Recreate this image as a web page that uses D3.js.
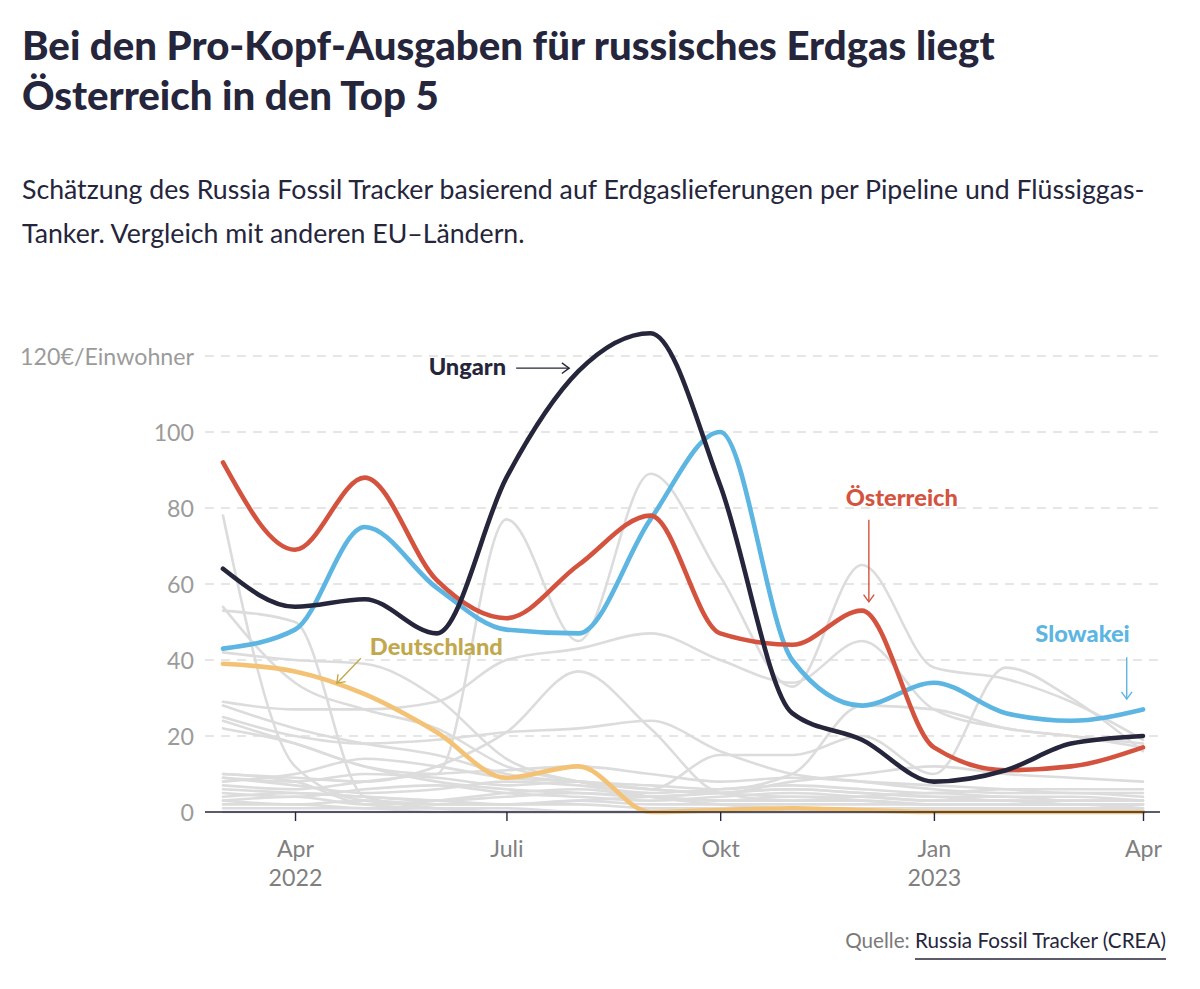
<!DOCTYPE html>
<html>
<head>
<meta charset="utf-8">
<script src="https://cdn.jsdelivr.net/npm/d3@7"></script>
<style>
  body { margin: 0; background: #fff; }
  svg { display: block; }
  text { font-family: Lato, "Open Sans", "DejaVu Sans", sans-serif; }
</style>
</head>
<body>
<svg id="chart" width="1200" height="989"></svg>
<script>
// ---------------- DATA ----------------
const months = ["2022-03-01","2022-04-01","2022-05-01","2022-06-01","2022-07-01","2022-08-01","2022-09-01",
                "2022-10-01","2022-11-01","2022-12-01","2023-01-01","2023-02-01","2023-03-01","2023-04-01"];

const oesterreich = [92, 69, 88, 61, 51, 65, 78, 47, 44, 53, 17, 11, 12, 17];
const slowakei    = [43, 48, 75, 59, 48, 47, 77, 100, 40, 28, 34, 26, 24, 27];
const ungarn      = [64, 54, 56, 47, 88, 116, 126, 86, 26, 19, 8, 11, 18, 20];
const deutschland = [39, 37, 31, 21, 9, 12, 0, 0.5, 1, 0.5, 0, 0, 0, 0];

// other EU countries (grey background lines)
const bulgarien    = [78, 12, 3, 2, 2, 3, 4, 5, 6, 5, 4, 3, 3, 3];
const finnland     = [53, 50, 4, 1, 0, 0, 0, 0, 0, 0, 0, 0, 0, 0];
const lettland     = [54, 34, 27, 22, 12, 8, 4, 2, 1, 1, 1, 1, 1, 1];
const griechenland = [22, 18, 12, 10, 77, 45, 89, 62, 33, 65, 38, 35, 29, 19];
const tschechien   = [42, 40, 39, 30, 14, 8, 6, 5, 4, 4, 3, 3, 2, 2];
const litauen      = [29, 27, 27, 29, 40, 43, 47, 40, 34, 45, 27, 22, 20, 18];
const slowenien    = [10, 9, 8, 12, 21, 37, 22, 5, 3, 3, 2, 2, 2, 2];
const italien      = [25, 20, 18, 19, 21, 22, 24, 16, 10, 8, 6, 5, 5, 4];
const belgien      = [9, 8, 10, 9, 7, 8, 6, 15, 15, 20, 10, 38, 30, 16];
const niederlande  = [28, 22, 18, 15, 10, 8, 7, 6, 10, 28, 27, 22, 20, 17];
const kroatien     = [8, 10, 14, 12, 9, 8, 6, 5, 8, 10, 12, 10, 9, 8];
const frankreich   = [7, 6, 8, 10, 11, 12, 10, 8, 9, 8, 7, 6, 5, 5];
const estland      = [6, 5, 4, 3, 2, 2, 1, 1, 1, 1, 1, 1, 1, 1];
const polen        = [10, 8, 2, 1, 1, 0, 0, 0, 0, 0, 0, 0, 0, 0];
const rumaenien    = [5, 4, 6, 7, 5, 4, 3, 4, 5, 4, 3, 3, 2, 2];
const spanien      = [4, 5, 4, 3, 4, 5, 4, 3, 3, 4, 5, 4, 4, 3];
const portugal     = [3, 2, 3, 2, 2, 3, 2, 2, 2, 2, 2, 2, 2, 1];
const daenemark    = [2, 2, 1, 1, 0, 0, 0, 0, 0, 0, 0, 0, 0, 0];
const schweden     = [1, 1, 1, 0, 0, 0, 0, 0, 0, 0, 0, 0, 0, 0];
const luxemburg    = [24, 18, 12, 8, 6, 5, 4, 5, 6, 5, 4, 4, 3, 3];
const irland       = [9, 7, 5, 6, 8, 7, 5, 6, 7, 6, 5, 6, 6, 6];
const zypern       = [0, 0, 0, 0, 0, 0, 0, 0, 0, 0, 0, 0, 0, 0];
const malta        = [3, 4, 2, 3, 5, 6, 4, 3, 4, 3, 2, 2, 2, 2];

const greySeries = [bulgarien, finnland, lettland, griechenland, tschechien, litauen, slowenien, italien,
                    belgien, niederlande, kroatien, frankreich, estland, polen, rumaenien, spanien,
                    portugal, daenemark, schweden, luxemburg, irland, zypern, malta];

const yTicks = [0, 20, 40, 60, 80, 100, 120];
const yTopLabel = "120€/Einwohner";
const xTickDates = ["2022-04-01","2022-07-01","2022-10-01","2023-01-01","2023-04-01"];
const xTickLabels = [["Apr","2022"],["Juli"],["Okt"],["Jan","2023"],["Apr"]];

const titleLines = ["Bei den Pro-Kopf-Ausgaben für russisches Erdgas liegt", "Österreich in den Top 5"];
const subtitleLines = ["Schätzung des Russia Fossil Tracker basierend auf Erdgaslieferungen per Pipeline und Flüssiggas-",
                       "Tanker. Vergleich mit anderen EU–Ländern."];

// annotation anchors (arrow tip in data units)
const annoLabels = ["Ungarn", "Deutschland", "Österreich", "Slowakei"];
const annoDates  = ["2022-07-28", "2022-04-19", "2022-12-04", "2023-03-25"];
const annoValues = [116.8, 33.9, 55.3, 29.7];

// ---------------- RENDER ----------------
const parse = d3.timeParse("%Y-%m-%d");
const dates = months.map(parse);
const svg = d3.select("#chart");

const C = {
  dark: "#25253b", red: "#d4533f", blue: "#5db5e2", orange: "#f3c275",
  gold: "#c2a84c", grey: "#dcdcdd", axisText: "#8e8e8e", grid: "#dedede"
};

function fitText(sel, target) {
  const fs = parseFloat(sel.attr("font-size"));
  const w = sel.node().getComputedTextLength();
  const nfs = fs * target / w;
  sel.attr("font-size", nfs);
  return nfs;
}

// Title
const t1 = svg.append("text").attr("x", 22).attr("y", 60).attr("font-size", 32)
  .attr("font-weight", 900).attr("fill", C.dark).text(titleLines[0]);
const tfs = fitText(t1, 973);
svg.append("text").attr("x", 22).attr("y", 110).attr("font-size", tfs)
  .attr("font-weight", 900).attr("fill", C.dark).text(titleLines[1]);

// Subtitle
const s1 = svg.append("text").attr("x", 22).attr("y", 199).attr("font-size", 21)
  .attr("fill", C.dark).text(subtitleLines[0]);
const sfs = fitText(s1, 1123);
svg.append("text").attr("x", 22).attr("y", 243).attr("font-size", sfs)
  .attr("fill", C.dark).text(subtitleLines[1]);

// Scales
const x = d3.scaleTime().domain([parse("2022-03-01"), parse("2023-04-01")]).range([223, 1143]);
const y = d3.scaleLinear().domain([0, 120]).range([812, 356]);
const gridX0 = 205, gridX1 = 1160;

// Grid
svg.append("g").selectAll("line").data(yTicks.filter(d => d > 0)).join("line")
  .attr("x1", gridX0).attr("x2", gridX1)
  .attr("y1", d => y(d)).attr("y2", d => y(d))
  .attr("stroke", C.grid).attr("stroke-width", 1.5).attr("stroke-dasharray", "9,7");

// Y axis labels
const yAxis = d3.axisLeft(y).tickValues(yTicks).tickSize(0).tickPadding(11)
  .tickFormat(d => d === 120 ? yTopLabel : d);
const yg = svg.append("g").attr("transform", `translate(${gridX0},0)`).call(yAxis);
yg.select(".domain").remove();
yg.selectAll("text").attr("font-size", 21).attr("fill", "#9b9b9b")
  .attr("font-family", "Lato, 'Open Sans', sans-serif").attr("dy", "0.35em");
const topLbl = yg.selectAll("text").filter(d => d === 120);
const yfs = fitText(topLbl, 174);
yg.selectAll("text").attr("font-size", yfs);

// Lines
const line = d3.line().x((d, i) => x(dates[i])).y(d => y(d)).curve(d3.curveMonotoneX);

svg.append("g").selectAll("path").data(greySeries).join("path")
  .attr("d", line).attr("fill", "none").attr("stroke", C.grey)
  .attr("stroke-width", 2.6).attr("stroke-linejoin", "round").attr("stroke-linecap", "round");

const highlight = [
  {v: deutschland, c: C.orange},
  {v: slowakei, c: C.blue},
  {v: oesterreich, c: C.red},
  {v: ungarn, c: C.dark}
];
svg.append("g").selectAll("path").data(highlight).join("path")
  .attr("d", d => line(d.v)).attr("fill", "none").attr("stroke", d => d.c)
  .attr("stroke-width", 4.6).attr("stroke-linejoin", "round").attr("stroke-linecap", "round");

// X axis
svg.append("line").attr("x1", gridX0).attr("x2", gridX1).attr("y1", y(0)).attr("y2", y(0))
  .attr("stroke", C.dark).attr("stroke-width", 1.6);
const xAxis = d3.axisBottom(x).tickValues(xTickDates.map(parse)).tickSize(9).tickPadding(0)
  .tickFormat(() => "");
const xg = svg.append("g").attr("transform", `translate(0,${y(0)})`).call(xAxis);
xg.select(".domain").remove();
xg.selectAll(".tick line").attr("stroke", C.dark).attr("stroke-width", 1.4);
xg.selectAll(".tick text").remove();
xg.selectAll(".tick").each(function(d, i) {
  const t = d3.select(this).append("text").attr("text-anchor", "middle")
    .attr("font-size", yfs).attr("fill", "#808080").attr("y", 45);
  xTickLabels[i].forEach((s, k) => {
    t.append("tspan").attr("x", 0).attr("y", 45 + k * 29).text(s);
  });
});

// Annotations
function arrowHead(g, tx, ty, angle, color) {
  const L = 9, a = Math.PI / 5;
  const p = [
    [tx - L * Math.cos(angle - a), ty - L * Math.sin(angle - a)],
    [tx, ty],
    [tx - L * Math.cos(angle + a), ty - L * Math.sin(angle + a)]
  ];
  g.append("path").attr("d", d3.line()(p)).attr("fill", "none").attr("stroke", color)
    .attr("stroke-width", 1.4).attr("stroke-linejoin", "miter");
}
const ag = svg.append("g");
const tips = annoDates.map((d, i) => [x(parse(d)), y(annoValues[i])]);

// measure annotation size so that "Deutschland" is ~133px wide
const probe = ag.append("text").attr("font-size", 20).attr("font-weight", 900).text(annoLabels[1]);
const annoFs = fitText(probe, 133);
probe.remove();

// Ungarn
{
  const [tx, ty] = tips[0];
  ag.append("line").attr("x1", tx - 53).attr("y1", ty).attr("x2", tx).attr("y2", ty)
    .attr("stroke", C.dark).attr("stroke-width", 1.4);
  arrowHead(ag, tx, ty, 0, C.dark);
  ag.append("text").attr("x", tx - 63).attr("y", ty + 7).attr("text-anchor", "end")
    .attr("font-size", annoFs).attr("font-weight", 900).attr("fill", C.dark).text(annoLabels[0]);
}
// Deutschland
{
  const [tx, ty] = tips[1];
  ag.append("line").attr("x1", tx + 24).attr("y1", ty - 25).attr("x2", tx).attr("y2", ty)
    .attr("stroke", C.gold).attr("stroke-width", 1.4);
  arrowHead(ag, tx, ty, Math.atan2(25, -24), C.gold);
  ag.append("text").attr("x", tx + 33).attr("y", ty - 28)
    .attr("font-size", annoFs).attr("font-weight", 900).attr("fill", C.gold).text(annoLabels[1]);
}
// Österreich
{
  const [tx, ty] = tips[2];
  ag.append("line").attr("x1", tx).attr("y1", ty - 82).attr("x2", tx).attr("y2", ty)
    .attr("stroke", C.red).attr("stroke-width", 1.4);
  arrowHead(ag, tx, ty, Math.PI / 2, C.red);
  ag.append("text").attr("x", tx + 33).attr("y", ty - 96).attr("text-anchor", "middle")
    .attr("font-size", annoFs).attr("font-weight", 900).attr("fill", C.red).text(annoLabels[2]);
}
// Slowakei
{
  const [tx, ty] = tips[3];
  ag.append("line").attr("x1", tx).attr("y1", ty - 42).attr("x2", tx).attr("y2", ty)
    .attr("stroke", C.blue).attr("stroke-width", 1.4);
  arrowHead(ag, tx, ty, Math.PI / 2, C.blue);
  ag.append("text").attr("x", tx + 3).attr("y", ty - 57).attr("text-anchor", "end")
    .attr("font-size", annoFs).attr("font-weight", 900).attr("fill", C.blue).text(annoLabels[3]);
}

// Source
const src = svg.append("text").attr("x", 1166).attr("y", 948).attr("text-anchor", "end")
  .attr("font-size", 18);
src.append("tspan").attr("fill", "#7a7a7a").text("Quelle: ");
const link = src.append("tspan").attr("fill", C.dark).text("Russia Fossil Tracker (CREA)");
fitText(src, 321);
const lw = link.node().getComputedTextLength();
svg.append("line").attr("x1", 1166 - lw).attr("x2", 1166).attr("y1", 959).attr("y2", 959)
  .attr("stroke", C.dark).attr("stroke-width", 1.6);
</script>
</body>
</html>
